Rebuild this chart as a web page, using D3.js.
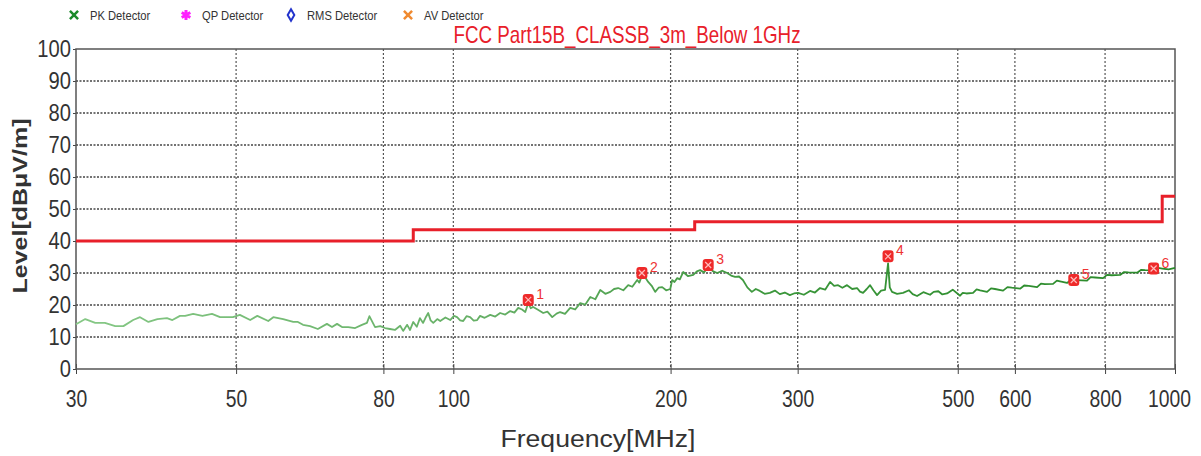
<!DOCTYPE html>
<html>
<head>
<meta charset="utf-8">
<script src="https://cdn.jsdelivr.net/npm/d3@7/dist/d3.min.js"></script>
<style>
  body { margin: 0; background: #fff; }
  svg { display: block; }
  text { font-family: "Liberation Sans", Arial, sans-serif; }
</style>
</head>
<body>
<div id="chart"></div>
<script>
// legend entries
var legendNames = ["PK Detector", "QP Detector", "RMS Detector", "AV Detector"];
var legendColors = ["#1a8a2a", "#ff22ff", "#2233cc", "#f08a30"];

// axis ticks
var freqTicks = [30, 50, 80, 100, 200, 300, 500, 600, 800, 1000];
var levelTicks = [0, 10, 20, 30, 40, 50, 60, 70, 80, 90, 100];

// FCC class B limit (3 m)
var limitFreq = [30, 88, 88, 216, 216, 960, 960, 1000];
var limitLevel = [40, 40, 43.5, 43.5, 46, 46, 54, 54];

// PK trace [MHz, dBuV/m]
var pkTrace = [
  [30, 14.0], [30.9, 15.6], [31.9, 14.4], [32.9, 14.4], [34.0, 13.4], [34.9, 13.4], [36.0, 15.3],
  [36.8, 16.2], [37.8, 14.7], [38.9, 15.6], [40.1, 15.9], [40.8, 15.3], [41.8, 16.6], [42.5, 16.6],
  [43.6, 17.2], [44.9, 16.6], [46.3, 17.2], [47.5, 16.2], [49.5, 16.2], [50.6, 16.9], [52.3, 15.3],
  [53.5, 16.6], [55.4, 15.0], [56.3, 16.2], [58.1, 15.6], [60.0, 14.7], [60.9, 14.7], [61.9, 13.8],
  [63.3, 13.4], [64.9, 12.5], [66.8, 14.1], [67.9, 13.1], [69.0, 14.1], [70.1, 13.1], [71.5, 13.1],
  [73.1, 12.8], [74.7, 13.8], [75.9, 14.4], [76.5, 16.5], [77.9, 13.1], [79.2, 13.4], [80.4, 12.8],
  [81.7, 12.5], [83.0, 12.2], [84.4, 13.5], [85.2, 11.9], [86.3, 13.8], [87.1, 12.2],
  [88.0, 14.7], [89.0, 13.2], [89.9, 15.9], [90.8, 14.4], [91.5, 16.0], [92.3, 17.5], [93.0, 15.2],
  [93.8, 14.4], [95.0, 15.6], [95.9, 15.0], [97.5, 16.1], [99.0, 15.3], [100.2, 16.6], [101.2, 16.2],
  [102.2, 15.2], [103.2, 15.0], [104.3, 16.5], [105.5, 16.2], [106.7, 15.1], [107.9, 15.3], [108.9, 16.6],
  [110.5, 16.0], [112.5, 16.9], [114.3, 16.4], [116.1, 17.5], [118, 17.0], [119.9, 18.1], [121.5, 17.6],
  [123.0, 19.1], [124.5, 18.6], [125.8, 17.8], [127.0, 20.6], [128, 19.0], [129.0, 19.4], [131, 18.5],
  [133.2, 17.5], [135, 17.9], [137.1, 16.2], [139, 17.3], [140.6, 17.8], [142.8, 17.2], [145.2, 19.1],
  [147.5, 18.6], [149.9, 20.6], [152.3, 20.1], [154.8, 22.5], [157.3, 21.8], [159.8, 24.7], [162.4, 23.5],
  [165.0, 24.1], [167, 25.0], [169.2, 25.3], [172, 24.6], [174.7, 26.2], [177, 25.7], [179.8, 27.8],
  [181, 27.0], [182.7, 29.4], [184.5, 28.6], [186.2, 27.2], [188.3, 26.0], [190.4, 24.1], [192.5, 25.4],
  [194.7, 25.6], [197.2, 24.6], [199.8, 25.0], [201.0, 27.8], [202.5, 27.2], [204.3, 28.4], [206, 28.0],
  [208.2, 30.3], [211.5, 29.0], [215.0, 29.4], [217.5, 30.5], [219.8, 30.9], [222.5, 30.2], [225.5, 31.9],
  [228.8, 30.6], [232.1, 30.0], [235.8, 30.7], [239.6, 30.0], [242.6, 29.2], [245.7, 28.8], [248.8, 28.9],
  [251.9, 27.8], [255.5, 25.5], [259.2, 24.1], [262.5, 25.0], [265.9, 24.4], [270, 23.5], [274.5, 23.8],
  [279, 24.5], [283.4, 23.4], [288, 23.9], [292.6, 23.1], [296.5, 23.6], [300.4, 23.8], [306, 23.2],
  [312.1, 24.4], [317, 23.9], [322.2, 25.3], [327.5, 24.8], [332.7, 27.2], [337, 26.0], [341.3, 26.2],
  [346, 25.4], [351.2, 26.2], [357, 25.0], [362.6, 25.3], [366, 24.2], [369.6, 23.8], [374, 25.0],
  [378.0, 26.2], [382, 24.6], [386.5, 23.1], [391.5, 24.5], [396.5, 24.7], [400.3, 33.0], [402.5, 25.5],
  [405.4, 24.1], [412, 23.5], [419.9, 23.8], [428, 24.6], [433, 23.4], [439.1, 22.8], [448, 24.0],
  [457.7, 23.2], [463, 24.1], [470, 24.3], [476, 23.3], [483.2, 23.6], [492, 24.8], [503.7, 22.9],
  [508, 23.8], [514, 23.6], [525, 23.8], [531, 24.9], [537, 24.6], [549, 24.1], [556, 25.2], [563, 25.0],
  [577.8, 24.5], [586, 25.6], [594, 25.4], [610, 25.1], [618, 26.1], [627, 26.0], [644, 25.6], [652, 26.7],
  [660, 26.5], [677.7, 26.6], [686, 27.6], [693, 27.4], [708.7, 26.9], [718, 27.9], [730, 27.8],
  [755.3, 27.6], [764, 28.7], [775, 28.6], [794.9, 28.4], [805, 29.4], [817, 29.3], [839.3, 29.4],
  [850, 30.3], [862, 30.2], [886.1, 30.1], [898, 31.0], [909, 30.9], [932.5, 30.8], [948, 31.6],
  [960, 31.4], [980, 31.1], [1000, 31.6]
];

// marked peaks
var markerFreq = [127, 182.5, 225.5, 400.3, 724, 934];
var markerLevel = [21.6, 30.0, 32.5, 35.2, 27.8, 31.4];

var W = 1201, H = 456;
var margin = { left: 76, right: 26, top: 49, bottom: 87 };

var svg = d3.select("#chart").append("svg").attr("width", W).attr("height", H);

var x = d3.scaleLog().domain([30, 1000]).range([margin.left, W - margin.right]);
var y = d3.scaleLinear().domain([0, 100]).range([H - margin.bottom, margin.top]);

// squeeze a text horizontally, the original uses a narrow face
function narrow(sel, k) {
    sel.each(function() {
        var len = this.getComputedTextLength();
        d3.select(this).attr("textLength", len * k).attr("lengthAdjust", "spacingAndGlyphs");
    });
}

var defs = svg.append("defs");
var grad = defs.append("linearGradient").attr("id", "trace-grad")
    .attr("gradientUnits", "userSpaceOnUse")
    .attr("x1", x(30)).attr("x2", x(1000)).attr("y1", 0).attr("y2", 0);
grad.append("stop").attr("offset", "0%").attr("stop-color", "#86c886");
grad.append("stop").attr("offset", "40%").attr("stop-color", "#62ad62");
grad.append("stop").attr("offset", "65%").attr("stop-color", "#3a963a");
grad.append("stop").attr("offset", "100%").attr("stop-color", "#2a8a2a");

// grid
var grid = svg.append("g");
grid.selectAll(".hg").data(levelTicks.slice(1, -1)).enter().append("line")
    .attr("x1", x(30)).attr("x2", x(1000))
    .attr("y1", function(d) { return y(d); }).attr("y2", function(d) { return y(d); })
    .attr("stroke", "#444").attr("stroke-width", 1.4).attr("stroke-dasharray", "2,1.5");
grid.selectAll(".vg").data(freqTicks.slice(1, -1)).enter().append("line")
    .attr("x1", function(d) { return x(d); }).attr("x2", function(d) { return x(d); })
    .attr("y1", y(100)).attr("y2", y(0))
    .attr("stroke", "#555").attr("stroke-width", 1.2).attr("stroke-dasharray", "2,2");

// axes
var xAxis = d3.axisBottom(x).tickValues(freqTicks).tickFormat(d3.format("d")).tickSize(5).tickPadding(17);
var gx = svg.append("g").attr("transform", "translate(0," + y(0) + ")").call(xAxis);
gx.select(".domain").remove();
gx.selectAll("line").attr("stroke", "#444").attr("y1", -5);
gx.selectAll("text").attr("font-size", 23).attr("fill", "#333").call(narrow, 0.84);
// last label sits a bit inside, as in the original
gx.selectAll("text").filter(function(d) { return d === 1000; }).attr("dx", -6);

var yAxis = d3.axisLeft(y).tickValues(levelTicks).tickSize(3).tickPadding(2);
var gy = svg.append("g").attr("transform", "translate(" + x(30) + ",0)").call(yAxis);
gy.select(".domain").remove();
gy.selectAll("line").attr("stroke", "#444");
gy.selectAll("text").attr("font-size", 24).attr("fill", "#333").call(narrow, 0.84);

// frame
svg.append("rect")
    .attr("x", x(30)).attr("y", y(100))
    .attr("width", x(1000) - x(30)).attr("height", y(0) - y(100))
    .attr("fill", "none").attr("stroke", "#555").attr("stroke-width", 1.5);

// limit line
var limitPts = limitFreq.map(function(f, i) { return [f, limitLevel[i]]; });
var line = d3.line().x(function(d) { return x(d[0]); }).y(function(d) { return y(d[1]); });
svg.append("path").attr("d", line(limitPts))
    .attr("fill", "none").attr("stroke", "#e8202a").attr("stroke-width", 3);

// trace
svg.append("path").attr("d", line(pkTrace))
    .attr("fill", "none").attr("stroke", "url(#trace-grad)").attr("stroke-width", 1.8)
    .attr("stroke-linejoin", "round");

// markers
var mk = svg.selectAll(".mk").data(markerFreq).enter().append("g")
    .attr("transform", function(d, i) { return "translate(" + x(d) + "," + y(markerLevel[i]) + ")"; });
mk.append("rect").attr("x", -5.5).attr("y", -6).attr("width", 11).attr("height", 12).attr("rx", 3)
    .attr("fill", "#ee2a2a");
mk.append("path").attr("d", "M-3,-3L3,3M3,-3L-3,3").attr("stroke", "#fbb").attr("stroke-width", 1.2);
mk.append("text").attr("x", 8).attr("y", -1)
    .attr("font-size", 14).attr("fill", "#ee3333")
    .text(function(d, i) { return i + 1; });

// legend
var legX = [74, 186, 291, 408];
var lg = svg.selectAll(".lg").data(legendNames).enter().append("g")
    .attr("transform", function(d, i) { return "translate(" + legX[i] + ",15)"; });
lg.append("path")
    .attr("d", function(d, i) {
        if (i === 0 || i === 3) return d3.symbol().type(d3.symbolX).size(45)();
        if (i === 1) return d3.symbol().type(d3.symbolAsterisk).size(70)();
        return d3.symbol().type(d3.symbolDiamond).size(38)();
    })
    .attr("fill", function(d, i) { return i === 2 ? "none" : legendColors[i]; })
    .attr("stroke", function(d, i) { return legendColors[i]; })
    .attr("stroke-width", function(d, i) { return i === 2 ? 2 : (i === 1 ? 3 : 2.5); });
lg.append("text").attr("x", 16).attr("y", 5)
    .attr("font-size", 13).attr("fill", "#333").text(function(d) { return d; })
    .call(narrow, 0.86);

// title
svg.append("text").attr("x", 627).attr("y", 43).attr("text-anchor", "middle")
    .attr("font-size", 24).attr("fill", "#e8202a")
    .attr("textLength", 347).attr("lengthAdjust", "spacingAndGlyphs")
    .text("FCC Part15B_CLASSB_3m_Below 1GHz");

// axis titles
svg.append("text").attr("transform", "translate(27,206) rotate(-90)").attr("text-anchor", "middle")
    .attr("font-weight", "bold").attr("font-size", 21).attr("fill", "#333")
    .attr("textLength", 175).attr("lengthAdjust", "spacingAndGlyphs")
    .text("Level[dBμV/m]");
svg.append("text").attr("x", 598).attr("y", 447).attr("text-anchor", "middle")
    .attr("font-size", 23).attr("fill", "#333")
    .attr("textLength", 195).attr("lengthAdjust", "spacingAndGlyphs")
    .text("Frequency[MHz]");
</script>
</body>
</html>
